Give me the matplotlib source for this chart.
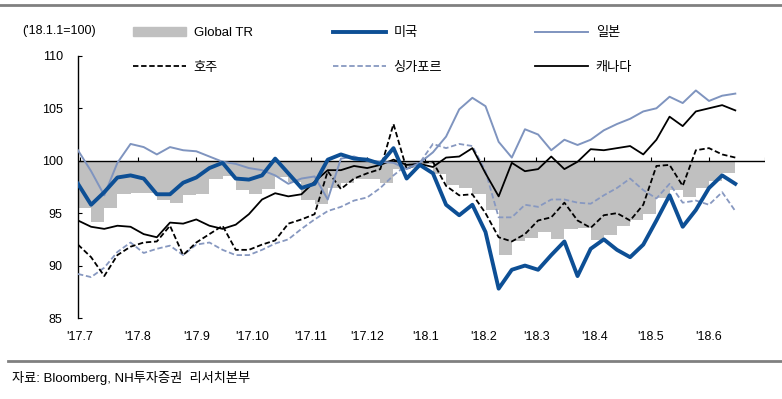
import matplotlib
matplotlib.use('Agg')
import matplotlib.pyplot as plt
from matplotlib.lines import Line2D
from matplotlib.patches import Patch
from matplotlib import font_manager
import pandas as pd

# Datos semanales ('18.1.1 = 100)
fechas = pd.date_range('2017-06-30', periods=51, freq='7D')

global_tr = [95.5, 94.2, 95.5, 96.8, 96.9, 96.9, 96.3, 96.0, 96.7, 96.8,
             98.3, 98.5, 97.2, 96.8, 97.3, 98.4, 98.0, 96.3, 95.9, 97.4,
             97.9, 98.3, 98.3, 97.9, 99.2, 99.3, 99.7, 98.7, 97.7, 97.4,
             96.8, 95.3, 91.0, 92.3, 92.6, 93.2, 92.5, 93.5, 93.6, 92.4,
             92.9, 93.8, 94.3, 94.9, 96.4, 97.2, 96.5, 97.4, 98.1, 98.8,
             99.5]
usa = [97.8, 95.8, 97.0, 98.4, 98.6, 98.3, 96.8, 96.8, 97.9, 98.4,
       99.3, 99.8, 98.3, 98.2, 98.6, 100.2, 98.8, 97.4, 97.8, 100.1,
       100.6, 100.2, 100.1, 99.7, 101.2, 98.3, 99.6, 98.8, 95.8, 94.8,
       95.8, 93.2, 87.8, 89.6, 90.0, 89.6, 91.0, 92.3, 89.0, 91.6,
       92.5, 91.5, 90.8, 92.0, 94.3, 96.7, 93.7, 95.3, 97.4, 98.6,
       97.8]
japon = [101.0, 99.0, 96.7, 99.8, 101.6, 101.3, 100.6, 101.3, 101.0, 100.9,
         100.4, 99.9, 99.7, 99.3, 99.1, 98.6, 97.8, 98.3, 98.5, 96.3,
         100.2, 100.4, 100.0, 99.9, 99.8, 99.2, 99.8, 100.8, 102.3, 104.9,
         106.0, 105.2, 101.8, 100.3, 103.0, 102.5, 101.0, 102.0, 101.5, 102.0,
         102.9, 103.5, 104.0, 104.7, 105.0, 106.1, 105.5, 106.7, 105.7, 106.2,
         106.4]
australia = [92.0, 90.8, 89.0, 91.0, 91.8, 92.2, 92.3, 93.8, 91.0, 92.2,
             93.0, 93.8, 91.5, 91.5, 92.0, 92.4, 94.0, 94.4, 94.9, 99.0,
             97.3, 98.3, 98.8, 99.2, 103.5, 99.2, 99.8, 99.9, 97.6, 96.7,
             96.8, 95.0, 92.7, 92.3, 93.0, 94.3, 94.6, 96.0, 94.3, 93.6,
             94.8, 95.0, 94.3, 95.8, 99.5, 99.6, 97.6, 101.0, 101.2, 100.6,
             100.3]
singapur = [89.2, 88.9, 89.8, 91.3, 92.2, 91.2, 91.6, 91.9, 91.0, 92.0,
            92.2, 91.5, 91.0, 91.0, 91.5, 92.1, 92.5, 93.5, 94.4, 95.2,
            95.6, 96.2, 96.5, 97.4, 98.6, 99.6, 99.8, 101.6, 101.2, 101.6,
            101.4, 99.0, 94.6, 94.6, 95.8, 95.6, 96.3, 96.3, 96.0, 95.9,
            96.7, 97.4, 98.3, 97.2, 96.4, 97.8, 96.0, 96.2, 95.8, 97.0,
            95.2]
canada = [94.3, 93.7, 93.5, 93.8, 93.7, 93.0, 92.7, 94.1, 94.0, 94.4,
          93.8, 93.5, 93.9, 94.9, 96.3, 96.9, 96.6, 96.8, 98.0, 99.1,
          99.1, 99.5, 99.3, 99.6, 100.1, 99.6, 99.7, 99.4, 100.3, 100.4,
          101.2, 98.8, 96.6, 99.8, 99.0, 99.2, 100.4, 99.2, 99.9, 101.1,
          101.0, 101.2, 101.4, 100.6, 102.0, 104.2, 103.3, 104.7, 105.0, 105.3,
          104.8]

meses = pd.date_range('2017-07-01', '2018-07-01', freq='MS')
etiquetas_meses = ["'17.7", "'17.8", "'17.9", "'17.10", "'17.11", "'17.12",
                   "'18.1", "'18.2", "'18.3", "'18.4", "'18.5", "'18.6"]

# Fuentes: estrecha para latin, CJK para coreano
nombres = {f.name for f in font_manager.fontManager.ttflist}
base = 'Liberation Sans Narrow' if 'Liberation Sans Narrow' in nombres else 'Liberation Sans'
plt.rcParams['font.family'] = [base, 'Noto Sans CJK KR']

C_USA = '#0d4f95'
C_JAPON = '#7f94bf'
C_SING = '#8798c0'
C_GRIS = '#c0c0c0'

fig = plt.figure(figsize=(7.82, 3.99), dpi=100)
ax = fig.add_axes([0.0997, 0.203, 0.879, 0.657])

ax.fill_between(fechas, global_tr, 100, step='post', color=C_GRIS, lw=0)
ax.axhline(100, color='black', lw=1.0, zorder=2)
ax.vlines(meses, 100, 100.4, color='black', lw=0.8, zorder=2)

ax.plot(fechas, singapur, color=C_SING, lw=1.3, ls=(0, (3, 1.5)), zorder=3)
ax.plot(fechas, australia, color='black', lw=1.3, ls=(0, (3, 1.5)), zorder=3)
ax.plot(fechas, canada, color='black', lw=1.3, zorder=3)
ax.plot(fechas, japon, color=C_JAPON, lw=1.4, zorder=4)
ax.plot(fechas, usa, color=C_USA, lw=2.8, zorder=5)

ax.set_xlim(pd.Timestamp('2017-06-30'), pd.Timestamp('2018-07-01'))
ax.set_ylim(85, 110)
ax.set_yticks([85, 90, 95, 100, 105, 110])
ax.set_xticks(meses[:-1])
ax.set_xticklabels(etiquetas_meses)
ax.tick_params(axis='x', length=0, pad=9, labelsize=9)
ax.tick_params(axis='y', direction='in', length=3, pad=11, labelsize=9)
for lado in ['top', 'right', 'bottom']:
    ax.spines[lado].set_visible(False)
ax.spines['left'].set_linewidth(1.0)

# Leyenda en tres columnas
columnas = [
    ([Patch(color=C_GRIS), Line2D([], [], color='black', lw=1.3, ls=(0, (3, 1.5)))],
     ['Global TR', '호주'], 133),
    ([Line2D([], [], color=C_USA, lw=2.8), Line2D([], [], color=C_SING, lw=1.3, ls=(0, (3, 1.5)))],
     ['미국', '싱가포르'], 333),
    ([Line2D([], [], color=C_JAPON, lw=1.4), Line2D([], [], color='black', lw=1.3)],
     ['일본', '캐나다'], 535),
]
for handles, labels, x in columnas:
    fig.legend(handles, labels, loc='upper left', bbox_to_anchor=(x / 782, 1 - 27 / 399),
               frameon=False, fontsize=9.5, handlelength=4.0, handletextpad=0.6,
               labelspacing=1.7, borderpad=0, borderaxespad=0)

fig.text(22 / 782, 1 - 31 / 399, "('18.1.1=100)", fontsize=9, va='center', ha='left')
fig.text(12 / 782, 1 - 378 / 399, '자료: Bloomberg, NH투자증권  리서치본부', fontsize=9.5,
         va='center', ha='left')

fig.add_artist(Line2D([0, 1], [1 - 5 / 399, 1 - 5 / 399], transform=fig.transFigure,
                      color='#808080', lw=2))
fig.add_artist(Line2D([8 / 782, 1], [1 - 361 / 399, 1 - 361 / 399], transform=fig.transFigure,
                      color='#808080', lw=2))

fig.savefig('out.png', dpi=100)
